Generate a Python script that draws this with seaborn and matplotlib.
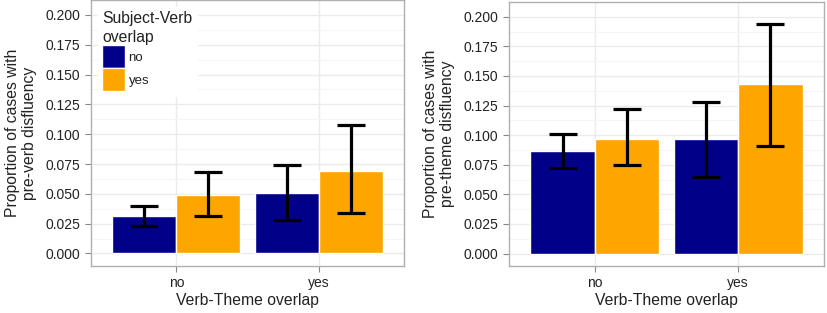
import numpy as np
import pandas as pd
import matplotlib
matplotlib.use("Agg")
import matplotlib.pyplot as plt
import seaborn as sns

# data
theme_overlap = ["no", "no", "yes", "yes"]
subj_overlap = ["no", "yes", "no", "yes"]

verb_prop = [0.031, 0.049, 0.051, 0.069]
verb_lo = [0.023, 0.031, 0.028, 0.034]
verb_hi = [0.040, 0.068, 0.074, 0.108]

theme_prop = [0.087, 0.097, 0.097, 0.143]
theme_lo = [0.072, 0.075, 0.065, 0.091]
theme_hi = [0.101, 0.122, 0.128, 0.194]

yticks = [0.0, 0.025, 0.05, 0.075, 0.1, 0.125, 0.15, 0.175, 0.2]
colors = {"no": "#000088", "yes": "#FFA500"}

sns.set_style("white")
plt.rcParams["font.family"] = ["Liberation Sans", "DejaVu Sans"]

fig = plt.figure(figsize=(8.27, 3.13), dpi=100)
ax1 = fig.add_axes([91 / 827, 47 / 313, 313 / 827, 266 / 313])
ax2 = fig.add_axes([509 / 827, 47 / 313, 315 / 827, 264 / 313])


def panel(ax, prop, lo, hi, ylabel, legend):
    df = pd.DataFrame({"theme": theme_overlap, "subj": subj_overlap, "prop": prop,
                       "lo": lo, "hi": hi})
    sns.barplot(data=df, x="theme", y="prop", hue="subj", hue_order=["no", "yes"],
                order=["no", "yes"], palette=colors, saturation=1, width=0.9,
                errorbar=None, edgecolor="white", linewidth=1.0, ax=ax, zorder=3,
                legend=legend)
    # error bars centred on each drawn bar
    for level, cont in zip(["no", "yes"], ax.containers):
        sub = df[df["subj"] == level].set_index("theme").loc[["no", "yes"]]
        xs = [p.get_x() + p.get_width() / 2 for p in cont.patches]
        ax.errorbar(xs, sub["prop"], yerr=[sub["prop"] - sub["lo"], sub["hi"] - sub["prop"]],
                    fmt="none", ecolor="black", elinewidth=2.3, capsize=10, capthick=2.3,
                    zorder=4)
    ax.set_xlim(-0.6, 1.6)
    ax.set_ylim(-0.0105, 0.2125)
    ax.set_yticks(yticks)
    ax.set_yticklabels([f"{t:.3f}" for t in yticks])
    ax.set_yticks(np.arange(0.0125, 0.2, 0.025), minor=True)
    ax.grid(True, which="major", color="#EBEBEB", linewidth=1.0, zorder=0)
    ax.grid(True, which="minor", axis="y", color="#F5F5F5", linewidth=0.8, zorder=0)
    ax.set_axisbelow(True)
    for s in ax.spines.values():
        s.set_color("#B0B0B0")
        s.set_linewidth(1.0)
    ax.tick_params(axis="both", which="major", length=4, width=0.8, color="#888888",
                   labelsize=10, labelcolor="#222222", direction="out",
                   left=True, bottom=True)
    ax.tick_params(axis="both", which="minor", length=0)
    ax.set_xlabel("Verb-Theme overlap", fontsize=11.3, color="#222222", labelpad=2)
    ax.set_ylabel(ylabel, fontsize=11.3, color="#222222", labelpad=6, linespacing=1.2)


panel(ax1, verb_prop, verb_lo, verb_hi,
      "Proportion of cases with\npre-verb disfluency", True)
panel(ax2, theme_prop, theme_lo, theme_hi,
      "Proportion of cases with\npre-theme disfluency", False)

leg = ax1.legend(title="Subject-Verb\noverlap", loc="upper left", frameon=True,
                 fontsize=9.5, title_fontsize=11.3, handlelength=1.75, handleheight=2.3,
                 handletextpad=0.25, labelspacing=0.0, borderpad=0.35,
                 bbox_to_anchor=(0.0, 1.0), alignment="left", borderaxespad=0.5)
leg.get_frame().set_facecolor("white")
leg.get_frame().set_edgecolor("white")
leg.get_frame().set_alpha(1.0)
leg.set_zorder(5)
for h in leg.legend_handles:
    h.set_edgecolor("white")
for t in leg.get_texts():
    t.set_color("#222222")
leg.get_title().set_color("#222222")
leg.get_title().set_linespacing(1.35)

fig.savefig("out.png", dpi=100)
